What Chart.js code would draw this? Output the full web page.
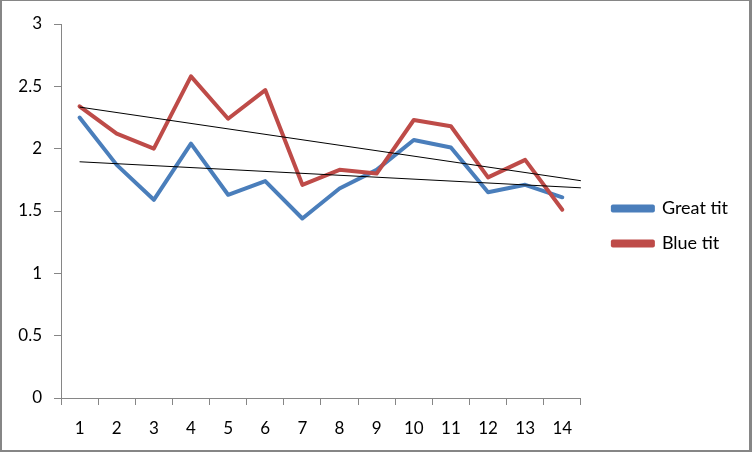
<!DOCTYPE html>
<html>
<head>
<meta charset="utf-8">
<script src="https://cdn.jsdelivr.net/npm/chart.js@4/dist/chart.umd.min.js"></script>
<style>
  html, body { margin: 0; padding: 0; background: #fff; }
  #wrap {
    position: relative;
    width: 752px; height: 452px;
    box-sizing: border-box;
    border-style: solid;
    border-color: #868686;
    border-width: 1px 3px 2px 2px;
  }
  #c { display: block; }
</style>
</head>
<body>
<div id="wrap"><canvas id="c" width="747" height="449"></canvas></div>
<script>
const categories = [1, 2, 3, 4, 5, 6, 7, 8, 9, 10, 11, 12, 13, 14];
const greatTit = [2.25, 1.87, 1.59, 2.04, 1.63, 1.74, 1.44, 1.68, 1.83, 2.07, 2.01, 1.65, 1.71, 1.61];
const blueTit  = [2.34, 2.12, 2.00, 2.58, 2.24, 2.47, 1.71, 1.83, 1.80, 2.23, 2.18, 1.77, 1.91, 1.51];
const yTicks = [0, 0.5, 1, 1.5, 2, 2.5, 3];
const seriesNames = ['Great tit', 'Blue tit'];

const FONT = 'Lato, "Open Sans", sans-serif';
const AXIS = '#868686';
const LEGEND_EXTRA_W = 16, LEGEND_DX = 15, LEGEND_DY = -11;

function trend(vals) {
  const n = vals.length;
  const xs = categories;
  const mx = xs.reduce((a, b) => a + b, 0) / n;
  const my = vals.reduce((a, b) => a + b, 0) / n;
  let sxy = 0, sxx = 0;
  for (let i = 0; i < n; i++) { sxy += (xs[i] - mx) * (vals[i] - my); sxx += (xs[i] - mx) ** 2; }
  const b = sxy / sxx, a = my - b * mx;
  const x0 = xs[0], x1 = xs[n - 1] + 0.5; // forward forecast half a period
  return [{ x: x0, y: a + b * x0 }, { x: x1, y: a + b * x1 }];
}

const pts = v => v.map((y, i) => ({ x: categories[i], y }));

const legendTweak = {
  id: 'legendTweak',
  afterInit(chart) {
    const lg = chart.legend;
    if (!lg || lg._tweaked) return;
    lg._tweaked = true;
    const fit = lg.fit.bind(lg);
    lg.fit = function () { fit(); this.width += LEGEND_EXTRA_W; };
    const draw = lg.draw.bind(lg);
    lg.draw = function () {
      const ctx = this.ctx;
      ctx.save();
      ctx.translate(LEGEND_DX, LEGEND_DY);
      draw();
      ctx.restore();
    };
  }
};

new Chart(document.getElementById('c'), {
  type: 'line',
  data: {
    datasets: [
      { label: seriesNames[0], data: pts(greatTit), borderColor: '#4A7EBB', backgroundColor: '#4A7EBB',
        borderWidth: 4, pointRadius: 0, borderJoinStyle: 'round', borderCapStyle: 'round', order: 3 },
      { label: seriesNames[1], data: pts(blueTit), borderColor: '#BE4B48', backgroundColor: '#BE4B48',
        borderWidth: 4, pointRadius: 0, borderJoinStyle: 'round', borderCapStyle: 'round', order: 2 },
      { label: 'trend1', data: trend(greatTit), borderColor: '#000', borderWidth: 1, pointRadius: 0, order: 1 },
      { label: 'trend2', data: trend(blueTit), borderColor: '#000', borderWidth: 1, pointRadius: 0, order: 0 }
    ]
  },
  plugins: [legendTweak],
  options: {
    responsive: false,
    animation: false,
    layout: { padding: { top: 23, right: 10, bottom: 0, left: 0 } },
    plugins: {
      tooltip: { enabled: false },
      legend: {
        position: 'right',
        labels: {
          filter: item => item.datasetIndex < 2,
          sort: (a, b) => a.datasetIndex - b.datasetIndex,
          boxWidth: 40, boxHeight: 4,
          padding: 17,
          color: '#000',
          font: { family: FONT, size: 18 }
        }
      }
    },
    scales: {
      x: {
        type: 'linear',
        min: 0.5, max: 14.5,
        afterBuildTicks: s => {
          const t = [];
          for (let i = 0; i <= categories.length * 2; i++) t.push({ value: 0.5 + i * 0.5 });
          s.ticks = t;
        },
        afterFit: s => { s.height = 52; },
        ticks: {
          autoSkip: false, maxRotation: 0,
          padding: 13,
          color: '#000',
          font: { family: FONT, size: 17 },
          callback: v => Number.isInteger(v) ? String(categories[v - 1]) : ''
        },
        grid: {
          drawOnChartArea: false, drawTicks: true, tickLength: 7,
          color: ctx => (ctx.tick && Number.isInteger(ctx.tick.value)) ? 'rgba(0,0,0,0)' : AXIS,
          lineWidth: 1
        },
        border: { display: true, color: AXIS, width: 1 }
      },
      y: {
        min: 0, max: 3,
        afterBuildTicks: s => { s.ticks = yTicks.map(v => ({ value: v })); },
        afterFit: s => { s.width = 59; },
        ticks: {
          padding: 12,
          color: '#000',
          font: { family: FONT, size: 17 },
          callback: v => String(v)
        },
        grid: { drawOnChartArea: false, drawTicks: true, tickLength: 7, color: AXIS },
        border: { display: true, color: AXIS, width: 1 }
      }
    }
  }
});
</script>
</body>
</html>
